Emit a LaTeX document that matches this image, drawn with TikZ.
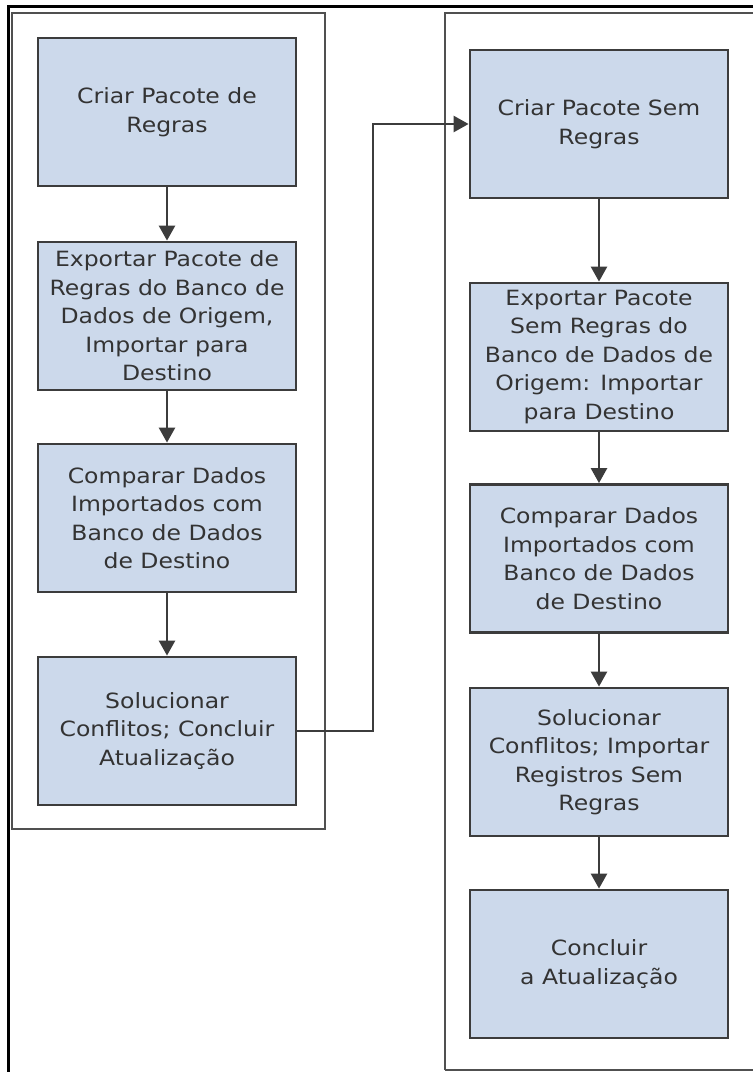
\documentclass[tikz,border=0pt]{standalone}
\usepackage{fontspec}
\setmainfont[FakeStretch=1.12]{DejaVu Sans}
\usetikzlibrary{arrows.meta}
\definecolor{boxfill}{HTML}{CCD9EB}
\definecolor{boxline}{HTML}{3C3C3C}
\definecolor{frameline}{HTML}{505050}
\definecolor{txt}{HTML}{333333}
\begin{document}
\begin{tikzpicture}[x=1pt,y=-1pt,
  stepbox/.style={draw=boxline, line width=2.8pt, fill=boxfill, minimum width=258pt, minimum height=148pt,
    align=center, text=txt, font=\fontsize{21}{28.5}\selectfont, inner sep=0pt},
  frame/.style={draw=frameline, line width=2.2pt},
  conn/.style={draw=boxline, line width=2.6pt, -{Triangle[length=15pt,width=16pt]}}]
\useasboundingbox (0,0) rectangle (753,1072);
% outer black border (left and top only)
\draw[black, line width=3pt] (8,1072) -- (8,6.5) -- (753,6.5);
% frames
\draw[frame] (12,13) rectangle (325,829);
\draw[frame] (445,1070) -- (445,13) -- (760,13);
\draw[frame] (445,1070) -- (760,1070);
% left column
\node[stepbox] (a1) at (167,112) {Criar Pacote de\\Regras};
\node[stepbox] (a2) at (167,316) {Exportar Pacote de\\Regras do Banco de\\Dados de Origem,\\Importar para\\Destino};
\node[stepbox] (a3) at (167,518) {Comparar Dados\\Importados com\\Banco de Dados\\de Destino};
\node[stepbox] (a4) at (167,731) {Solucionar\\Conflitos; Concluir\\Atualização};
% right column
\node[stepbox] (b1) at (599,124) {Criar Pacote Sem\\Regras};
\node[stepbox] (b2) at (599,357) {Exportar Pacote\\Sem Regras do\\Banco de Dados de\\Origem: Importar\\para Destino};
\node[stepbox] (b3) at (599,558.5) {Comparar Dados\\Importados com\\Banco de Dados\\de Destino};
\node[stepbox] (b4) at (599,762) {Solucionar\\Conflitos; Importar\\Registros Sem\\Regras};
\node[stepbox] (b5) at (599,964) {Concluir\\a Atualização};
% connectors
\draw[conn] (a1) -- (a2);
\draw[conn] (a2) -- (a3);
\draw[conn] (a3) -- (a4);
\draw[conn] (b1) -- (b2);
\draw[conn] (b2) -- (b3);
\draw[conn] (b3) -- (b4);
\draw[conn] (b4) -- (b5);
\coordinate (k1) at (373,731);
\coordinate (k2) at (373,124);
\draw[conn] (a4.east) -- (k1) -- (k2) -- (b1.west);
\end{tikzpicture}
\end{document}
